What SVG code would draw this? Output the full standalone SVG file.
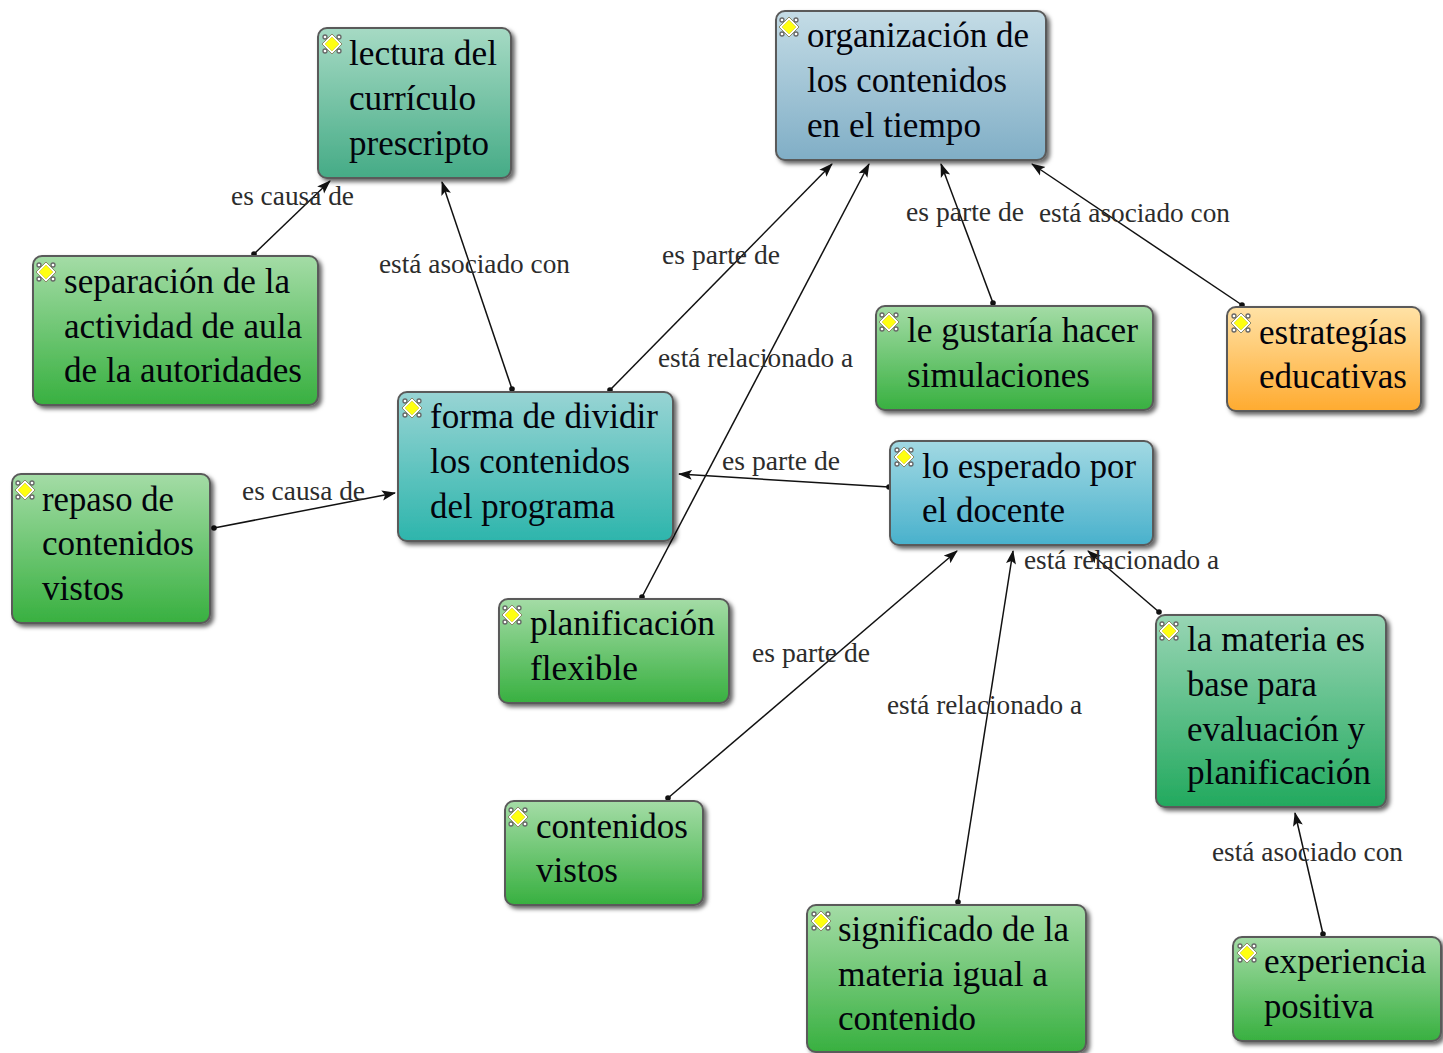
<svg xmlns="http://www.w3.org/2000/svg" xmlns:xlink="http://www.w3.org/1999/xlink" width="1443" height="1053" viewBox="0 0 1443 1053">
<style>
.n{stroke:#5a5a5a;stroke-width:2}
.t{font-family:"Liberation Serif","Times New Roman",serif;font-size:36px;fill:#03030c;transform:translateY(-.5px)}
.l{font-family:"Liberation Serif","Times New Roman",serif;font-size:28px;fill:#2c2c2c}
.c{stroke:#111;stroke-width:1.5;fill:none;marker-start:url(#dot);marker-end:url(#arr)}
</style>
<defs>
<linearGradient id="gGreen" x1="0" y1="0" x2="0" y2="1"><stop offset="0" stop-color="#a4dca6"/><stop offset="1" stop-color="#38b040"/></linearGradient>
<linearGradient id="gSea" x1="0" y1="0" x2="0" y2="1"><stop offset="0" stop-color="#a6dac4"/><stop offset="1" stop-color="#45ab86"/></linearGradient>
<linearGradient id="gMat" x1="0" y1="0" x2="0" y2="1"><stop offset="0" stop-color="#98d5b4"/><stop offset="1" stop-color="#22a95e"/></linearGradient>
<linearGradient id="gSteel" x1="0" y1="0" x2="0" y2="1"><stop offset="0" stop-color="#c4dce6"/><stop offset="1" stop-color="#80aec6"/></linearGradient>
<linearGradient id="gTeal" x1="0" y1="0" x2="0" y2="1"><stop offset="0" stop-color="#98d4d4"/><stop offset="1" stop-color="#2db5ac"/></linearGradient>
<linearGradient id="gCyan" x1="0" y1="0" x2="0" y2="1"><stop offset="0" stop-color="#a2d9e3"/><stop offset="1" stop-color="#49b1cc"/></linearGradient>
<linearGradient id="gOrange" x1="0" y1="0" x2="0" y2="1"><stop offset="0" stop-color="#ffe2a6"/><stop offset="1" stop-color="#ffab30"/></linearGradient>
<filter id="sh" x="-5%" y="-5%" width="112%" height="115%"><feDropShadow dx="3" dy="3" stdDeviation="2" flood-color="#000" flood-opacity=".6"/></filter>
<marker id="arr" markerUnits="userSpaceOnUse" markerWidth="14" markerHeight="12" refX="13" refY="6" orient="auto"><path d="M0 1L14 6L0 11L3 6Z" fill="#111"/></marker>
<marker id="dot" markerUnits="userSpaceOnUse" markerWidth="7" markerHeight="7" refX="3.5" refY="3.5"><circle cx="3.5" cy="3.5" r="2.8" fill="#111"/></marker>
<g id="ic">
<g fill="#fff" stroke="#666" stroke-width="1.3"><circle cx="-7" cy="-7" r="2"/><circle cx="7" cy="-7" r="2"/><circle cx="-7" cy="7" r="2"/><circle cx="7" cy="7" r="2"/></g>
<path d="M0 -10L10 0L0 10L-10 0Z" fill="#fff" stroke="#8a8a6a" stroke-width="1"/>
<path d="M0 -7L7 0L0 7L-7 0Z" fill="#ffff10" stroke="#c8c840" stroke-width=".6"/>
</g>
</defs>
<g id="connectors">
<line class="c" x1="254" y1="254" x2="330" y2="181"/>
<line class="c" x1="512" y1="389" x2="442" y2="182"/>
<line class="c" x1="610" y1="390" x2="832" y2="164"/>
<line class="c" x1="642" y1="597" x2="869" y2="164"/>
<line class="c" x1="993" y1="303" x2="941" y2="164"/>
<line class="c" x1="1242" y1="305" x2="1032" y2="164"/>
<line class="c" x1="214" y1="528" x2="395" y2="493"/>
<line class="c" x1="889" y1="487" x2="679" y2="474"/>
<line class="c" x1="668" y1="798" x2="957" y2="551"/>
<line class="c" x1="958" y1="902" x2="1013" y2="551"/>
<line class="c" x1="1159" y1="612" x2="1088" y2="551"/>
<line class="c" x1="1323" y1="934" x2="1295" y2="813"/>
</g>
<g id="connector-labels">
<text class="l" x="231" y="205" textLength="123" lengthAdjust="spacingAndGlyphs">es causa de</text>
<text class="l" x="379" y="273" textLength="191" lengthAdjust="spacingAndGlyphs">está asociado con</text>
<text class="l" x="662" y="264" textLength="118" lengthAdjust="spacingAndGlyphs">es parte de</text>
<text class="l" x="658" y="367" textLength="195" lengthAdjust="spacingAndGlyphs">está relacionado a</text>
<text class="l" x="906" y="221" textLength="118" lengthAdjust="spacingAndGlyphs">es parte de</text>
<text class="l" x="1039" y="222" textLength="191" lengthAdjust="spacingAndGlyphs">está asociado con</text>
<text class="l" x="242" y="500" textLength="123" lengthAdjust="spacingAndGlyphs">es causa de</text>
<text class="l" x="722" y="470" textLength="118" lengthAdjust="spacingAndGlyphs">es parte de</text>
<text class="l" x="1024" y="569" textLength="195" lengthAdjust="spacingAndGlyphs">está relacionado a</text>
<text class="l" x="752" y="662" textLength="118" lengthAdjust="spacingAndGlyphs">es parte de</text>
<text class="l" x="887" y="714" textLength="195" lengthAdjust="spacingAndGlyphs">está relacionado a</text>
<text class="l" x="1212" y="861" textLength="191" lengthAdjust="spacingAndGlyphs">está asociado con</text>
</g>
<g id="n-lectura"><rect class="n" x="318" y="28" width="193" height="150" rx="9" fill="url(#gSea)" filter="url(#sh)"/><use xlink:href="#ic" x="332" y="44"/>
<text class="t" x="349" y="65" textLength="148" lengthAdjust="spacingAndGlyphs">lectura del</text><text class="t" x="349" y="110" textLength="127" lengthAdjust="spacingAndGlyphs">currículo</text><text class="t" x="349" y="155" textLength="140" lengthAdjust="spacingAndGlyphs">prescripto</text></g>
<g id="n-separacion"><rect class="n" x="33" y="256" width="285" height="149" rx="9" fill="url(#gGreen)" filter="url(#sh)"/><use xlink:href="#ic" x="46" y="272"/>
<text class="t" x="64" y="293" textLength="226" lengthAdjust="spacingAndGlyphs">separación de la</text><text class="t" x="64" y="338" textLength="238" lengthAdjust="spacingAndGlyphs">actividad de aula</text><text class="t" x="64" y="382" textLength="238" lengthAdjust="spacingAndGlyphs">de la autoridades</text></g>
<g id="n-forma"><rect class="n" x="398" y="392" width="275" height="149" rx="9" fill="url(#gTeal)" filter="url(#sh)"/><use xlink:href="#ic" x="412" y="408"/>
<text class="t" x="430" y="428" textLength="228" lengthAdjust="spacingAndGlyphs">forma de dividir</text><text class="t" x="430" y="473" textLength="200" lengthAdjust="spacingAndGlyphs">los contenidos</text><text class="t" x="430" y="518" textLength="185" lengthAdjust="spacingAndGlyphs">del programa</text></g>
<g id="n-repaso"><rect class="n" x="12" y="474" width="198" height="149" rx="9" fill="url(#gGreen)" filter="url(#sh)"/><use xlink:href="#ic" x="25" y="490"/>
<text class="t" x="42" y="511" textLength="132" lengthAdjust="spacingAndGlyphs">repaso de</text><text class="t" x="42" y="555" textLength="152" lengthAdjust="spacingAndGlyphs">contenidos</text><text class="t" x="42" y="600" textLength="82" lengthAdjust="spacingAndGlyphs">vistos</text></g>
<g id="n-planificacion"><rect class="n" x="499" y="599" width="230" height="104" rx="9" fill="url(#gGreen)" filter="url(#sh)"/><use xlink:href="#ic" x="512" y="615"/>
<text class="t" x="530" y="635" textLength="185" lengthAdjust="spacingAndGlyphs">planificación</text><text class="t" x="530" y="680" textLength="108" lengthAdjust="spacingAndGlyphs">flexible</text></g>
<g id="n-contenidos"><rect class="n" x="505" y="801" width="198" height="104" rx="9" fill="url(#gGreen)" filter="url(#sh)"/><use xlink:href="#ic" x="518" y="817"/>
<text class="t" x="536" y="838" textLength="152" lengthAdjust="spacingAndGlyphs">contenidos</text><text class="t" x="536" y="882" textLength="82" lengthAdjust="spacingAndGlyphs">vistos</text></g>
<g id="n-significado"><rect class="n" x="807" y="905" width="279" height="147" rx="9" fill="url(#gGreen)" filter="url(#sh)"/><use xlink:href="#ic" x="821" y="921"/>
<text class="t" x="838" y="941" textLength="231" lengthAdjust="spacingAndGlyphs">significado de la</text><text class="t" x="838" y="986" textLength="210" lengthAdjust="spacingAndGlyphs">materia igual a</text><text class="t" x="838" y="1030" textLength="138" lengthAdjust="spacingAndGlyphs">contenido</text></g>
<g id="n-esperado"><rect class="n" x="890" y="441" width="263" height="104" rx="9" fill="url(#gCyan)" filter="url(#sh)"/><use xlink:href="#ic" x="904" y="457"/>
<text class="t" x="922" y="478" textLength="214" lengthAdjust="spacingAndGlyphs">lo esperado por</text><text class="t" x="922" y="522" textLength="143" lengthAdjust="spacingAndGlyphs">el docente</text></g>
<g id="n-materia"><rect class="n" x="1156" y="615" width="230" height="192" rx="9" fill="url(#gMat)" filter="url(#sh)"/><use xlink:href="#ic" x="1169" y="631"/>
<text class="t" x="1187" y="651" textLength="178" lengthAdjust="spacingAndGlyphs">la materia es</text><text class="t" x="1187" y="696" textLength="130" lengthAdjust="spacingAndGlyphs">base para</text><text class="t" x="1187" y="741" textLength="178" lengthAdjust="spacingAndGlyphs">evaluación y</text><text class="t" x="1187" y="784" textLength="184" lengthAdjust="spacingAndGlyphs">planificación</text></g>
<g id="n-experiencia"><rect class="n" x="1233" y="937" width="208" height="104" rx="9" fill="url(#gGreen)" filter="url(#sh)"/><use xlink:href="#ic" x="1247" y="953"/>
<text class="t" x="1264" y="973" textLength="162" lengthAdjust="spacingAndGlyphs">experiencia</text><text class="t" x="1264" y="1018" textLength="110" lengthAdjust="spacingAndGlyphs">positiva</text></g>
<g id="n-organizacion"><rect class="n" x="776" y="11" width="270" height="149" rx="9" fill="url(#gSteel)" filter="url(#sh)"/><use xlink:href="#ic" x="789" y="27"/>
<text class="t" x="807" y="47" textLength="222" lengthAdjust="spacingAndGlyphs">organización de</text><text class="t" x="807" y="92" textLength="200" lengthAdjust="spacingAndGlyphs">los contenidos</text><text class="t" x="807" y="137" textLength="174" lengthAdjust="spacingAndGlyphs">en el tiempo</text></g>
<g id="n-gustaria"><rect class="n" x="876" y="306" width="277" height="104" rx="9" fill="url(#gGreen)" filter="url(#sh)"/><use xlink:href="#ic" x="889" y="322"/>
<text class="t" x="907" y="342" textLength="231" lengthAdjust="spacingAndGlyphs">le gustaría hacer</text><text class="t" x="907" y="387" textLength="183" lengthAdjust="spacingAndGlyphs">simulaciones</text></g>
<g id="n-estrategias"><rect class="n" x="1227" y="307" width="194" height="104" rx="9" fill="url(#gOrange)" filter="url(#sh)"/><use xlink:href="#ic" x="1241" y="323"/>
<text class="t" x="1259" y="344" textLength="148" lengthAdjust="spacingAndGlyphs">estrategías</text><text class="t" x="1259" y="388" textLength="148" lengthAdjust="spacingAndGlyphs">educativas</text></g>
</svg>
